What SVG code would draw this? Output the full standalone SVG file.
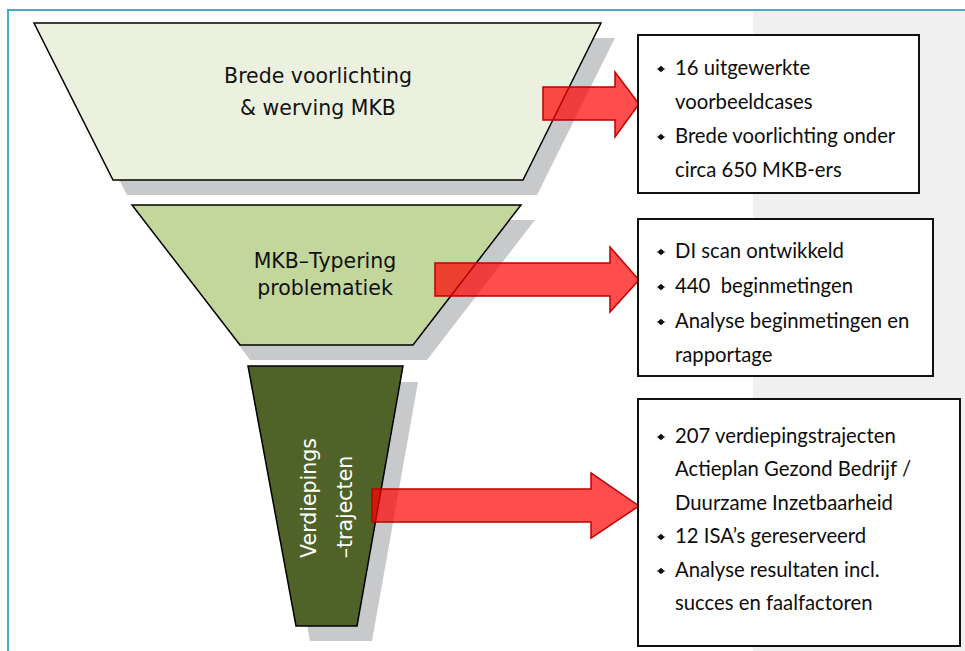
<svg xmlns="http://www.w3.org/2000/svg" width="965" height="651" viewBox="0 0 965 651">
  <style>
    .shadow { fill: #c8c9cb; stroke: none; }
    .stage { stroke: #000; stroke-width: 1.5; stroke-linejoin: miter; }
    .ftext { font-family: "DejaVu Sans", Verdana, sans-serif; font-size: 20.5px; fill: #111; text-anchor: middle; }
    .vtext { font-family: "DejaVu Sans", Verdana, sans-serif; font-size: 20.5px; fill: #fff; text-anchor: middle; }
    .box { fill: #fff; stroke: #111; stroke-width: 2; }
    .btext { font-family: Lato, "Open Sans", sans-serif; font-size: 20.3px; fill: #0d0d0d; white-space: pre; }
    .bullet { fill: #111; }
    .arrow { fill: #ff0000; fill-opacity: 0.7; stroke: #c00000; stroke-width: 1.5; stroke-linejoin: miter; }
  </style>
  <defs>
    <g id="bul">
      <polygon points="-4.5,0 -1.2,-1.2 0,-3.5 1.2,-1.2 4.5,0 1.2,1.2 0,3.5 -1.2,1.2"/>
      <circle cx="0" cy="0" r="2.5"/>
    </g>
  </defs>

  <!-- background -->
  <rect x="0" y="0" width="965" height="651" fill="#fff"/>
  <rect x="753" y="11" width="212" height="640" fill="#f0f0f0"/>
  <line x1="8" y1="10" x2="965" y2="10" stroke="#4bacc6" stroke-width="2"/>
  <line x1="8" y1="9" x2="8" y2="651" stroke="#4bacc6" stroke-width="2"/>

  <!-- shadows -->
  <polygon class="shadow" points="48,38 615,38 537,195 127,195"/>
  <polygon class="shadow" points="146,220 535,220 427,360 250,360"/>
  <polygon class="shadow" points="262,382 418,382 372,641 310,641"/>

  <g id="stage1">
    <polygon class="stage" fill="#ebf1de" points="34,23 601,23 523,180 113,180"/>
    <text class="ftext" x="318" y="83">Brede voorlichting</text>
    <text class="ftext" x="318" y="115">&amp; werving MKB</text>
  </g>

  <g id="stage2">
    <polygon class="stage" fill="#c3d69b" points="132,205 521,205 413,345 240,345"/>
    <text class="ftext" x="325" y="268">MKB–Typering</text>
    <text class="ftext" x="325" y="295">problematiek</text>
  </g>

  <g id="stage3">
    <polygon class="stage" fill="#4f6228" points="248,366 403,366 357,626 296,626"/>
    <text class="vtext" transform="translate(316,498) rotate(-90)">Verdiepings</text>
    <text class="vtext" transform="translate(352,507) rotate(-90)">–trajecten</text>
  </g>

  <g id="connectors">
    <polygon class="arrow" points="543,87 615,87 615,72 639,104 615,137 615,120 543,120"/>
    <polygon class="arrow" points="435,263 610,263 610,247 639,280 610,312 610,296 435,296"/>
    <polygon class="arrow" points="372,489 591,489 591,473 639,506 591,538 591,522 372,522"/>
  </g>

  <g id="result1">
    <rect class="box" x="638" y="35" width="281" height="158"/>
    <use href="#bul" class="bullet" x="661" y="69"/>
    <text class="btext" x="675" y="75">16 uitgewerkte</text>
    <text class="btext" x="675" y="109">voorbeeldcases</text>
    <use href="#bul" class="bullet" x="661" y="137"/>
    <text class="btext" x="675" y="143">Brede voorlichting onder</text>
    <text class="btext" x="675" y="177">circa 650 MKB-ers</text>
  </g>

  <g id="result2">
    <rect class="box" x="638" y="219" width="295" height="157"/>
    <use href="#bul" class="bullet" x="661" y="252"/>
    <text class="btext" x="675" y="258">DI scan ontwikkeld</text>
    <use href="#bul" class="bullet" x="661" y="287"/>
    <text class="btext" x="675" y="293" xml:space="preserve">440  beginmetingen</text>
    <use href="#bul" class="bullet" x="661" y="322"/>
    <text class="btext" x="675" y="328">Analyse beginmetingen en</text>
    <text class="btext" x="675" y="362">rapportage</text>
  </g>

  <g id="result3">
    <rect class="box" x="638" y="399" width="322" height="247"/>
    <use href="#bul" class="bullet" x="661" y="437"/>
    <text class="btext" x="675" y="443">207 verdiepingstrajecten</text>
    <text class="btext" x="675" y="476">Actieplan Gezond Bedrijf /</text>
    <text class="btext" x="675" y="510">Duurzame Inzetbaarheid</text>
    <use href="#bul" class="bullet" x="661" y="537"/>
    <text class="btext" x="675" y="543">12 ISA’s gereserveerd</text>
    <use href="#bul" class="bullet" x="661" y="571"/>
    <text class="btext" x="675" y="577">Analyse resultaten incl.</text>
    <text class="btext" x="675" y="610">succes en faalfactoren</text>
  </g>
</svg>
